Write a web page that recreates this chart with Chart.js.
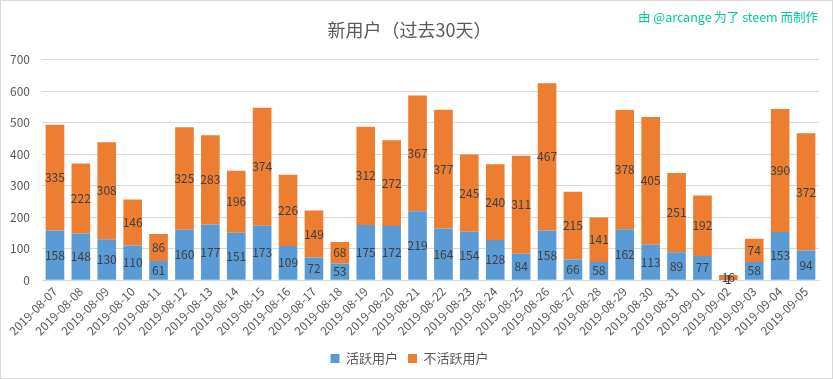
<!DOCTYPE html>
<html>
<head>
<meta charset="utf-8">
<script src="https://cdn.jsdelivr.net/npm/chart.js@4/dist/chart.umd.min.js"></script>
<style>
html,body{margin:0;padding:0;background:#fff;}
#wrap{position:relative;width:833px;height:379px;}
canvas{display:block;}
</style>
</head>
<body>
<div id="wrap"><canvas id="c" width="833" height="379"></canvas></div>
<script>
const categories = ["2019-08-07","2019-08-08","2019-08-09","2019-08-10","2019-08-11","2019-08-12","2019-08-13","2019-08-14","2019-08-15","2019-08-16","2019-08-17","2019-08-18","2019-08-19","2019-08-20","2019-08-21","2019-08-22","2019-08-23","2019-08-24","2019-08-25","2019-08-26","2019-08-27","2019-08-28","2019-08-29","2019-08-30","2019-08-31","2019-09-01","2019-09-02","2019-09-03","2019-09-04","2019-09-05"];
const activeUsers = [158,148,130,110,61,160,177,151,173,109,72,53,175,172,219,164,154,128,84,158,66,58,162,113,89,77,1,58,153,94];
const inactiveUsers = [335,222,308,146,86,325,283,196,374,226,149,68,312,272,367,377,245,240,311,467,215,141,378,405,251,192,16,74,390,372];
const seriesNames = ["活跃用户","不活跃用户"];
const titleText = "新用户（过去30天）";
const creditText = "由 @arcange 为了 steem 而制作";
const yTicks = [0,100,200,300,400,500,600,700];

const FONT = "'Noto Sans CJK SC','Noto Sans',sans-serif";

const labelPlugin = {
  id: 'segLabels',
  afterDatasetsDraw(chart) {
    const ctx = chart.ctx;
    ctx.save();
    ctx.font = "12px " + FONT;
    ctx.fillStyle = "#404040";
    ctx.textAlign = "center";
    ctx.textBaseline = "middle";
    chart.data.datasets.forEach((ds, di) => {
      const meta = chart.getDatasetMeta(di);
      meta.data.forEach((bar, i) => {
        const y = (bar.y + bar.base) / 2;
        ctx.fillText(String(ds.data[i]), bar.x, y);
      });
    });
    ctx.restore();
  }
};

const framePlugin = {
  id: 'frame',
  afterDraw(chart) {
    const ctx = chart.ctx;
    ctx.save();
    ctx.strokeStyle = "#D9D9D9";
    ctx.lineWidth = 1;
    ctx.strokeRect(0.5, 0.5, chart.width - 1, chart.height - 1);
    ctx.font = "12.5px " + FONT;
    ctx.fillStyle = "#00C8A0";
    ctx.textAlign = "right";
    ctx.textBaseline = "middle";
    ctx.fillText(creditText, 818, 17);
    ctx.restore();
  }
};

new Chart(document.getElementById('c'), {
  type: 'bar',
  data: {
    labels: categories,
    datasets: [
      { label: seriesNames[0], data: activeUsers, backgroundColor: '#5B9BD5', borderWidth: 0 },
      { label: seriesNames[1], data: inactiveUsers, backgroundColor: '#ED7D31', borderWidth: 0 }
    ]
  },
  options: {
    responsive: false,
    animation: false,
    devicePixelRatio: 1,
    layout: { padding: { left: 0, right: 14, top: 0, bottom: 4 } },
    datasets: { bar: { categoryPercentage: 1.0, barPercentage: 0.72 } },
    scales: {
      x: {
        stacked: true,
        grid: { display: false, drawTicks: false },
        border: { display: true, color: '#D9D9D9' },
        ticks: {
          minRotation: 45, maxRotation: 45, autoSkip: false,
          color: '#595959', font: { size: 12, family: FONT }, padding: 4
        }
      },
      y: {
        stacked: true,
        min: 0, max: 700,
        afterBuildTicks(scale) { scale.ticks = yTicks.map(v => ({ value: v })); },
        afterFit(scale) { scale.width = 42; },
        grid: { color: '#D9D9D9', drawTicks: false },
        border: { display: false },
        ticks: { color: '#595959', font: { size: 12, family: FONT }, padding: 12 }
      }
    },
    plugins: {
      title: {
        display: true, text: titleText, color: '#595959',
        font: { size: 18, weight: 'normal', family: FONT },
        padding: { top: 19, bottom: 19 }
      },
      legend: {
        position: 'bottom',
        labels: {
          color: '#595959', font: { size: 13, family: FONT },
          boxWidth: 9, boxHeight: 9, padding: 10
        }
      },
      tooltip: { enabled: false }
    }
  },
  plugins: [labelPlugin, framePlugin]
});
</script>
</body>
</html>
